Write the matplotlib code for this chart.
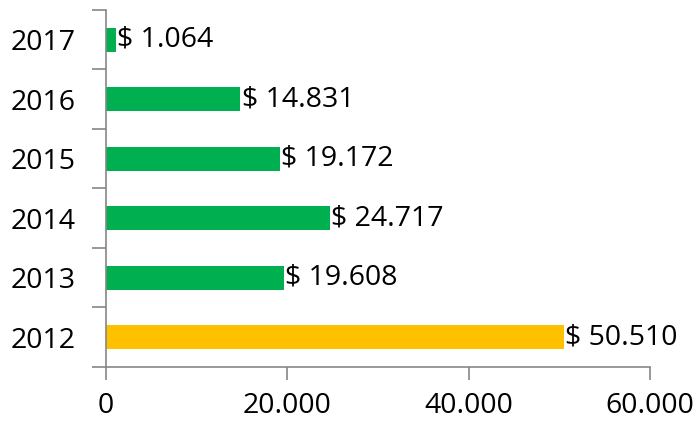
import matplotlib.pyplot as plt
from matplotlib.ticker import FuncFormatter
import numpy as np

years = ["2012", "2013", "2014", "2015", "2016", "2017"]
values = [50510, 19608, 24717, 19172, 14831, 1064]
colors = ["#FFC000", "#00B050", "#00B050", "#00B050", "#00B050", "#00B050"]
x_ticks = [0, 20000, 40000, 60000]

plt.rcParams["font.family"] = ["Open Sans", "DejaVu Sans"]
font_size = 20.5
spine_color = "#868686"


def dots(v):
    return f"{int(v):,}".replace(",", ".")


fig = plt.figure(figsize=(6.98, 4.25), dpi=100)
ax = fig.add_axes([0.1519, 0.1365, 0.7793, 0.84])

pos = np.arange(len(years))
ax.barh(pos, values, height=0.4, color=colors)

for p, v in zip(pos, values):
    ax.text(v + 150, p, "$ " + dots(v), ha="left", va="center", fontsize=font_size)

ax.set_xlim(0, 60000)
ax.set_ylim(-0.5, len(years) - 0.5)
ax.set_xticks(x_ticks)
ax.xaxis.set_major_formatter(FuncFormatter(lambda v, _: dots(v)))
ax.set_yticks(pos)
ax.set_yticklabels(years)
ax.set_yticks(np.arange(-0.5, len(years)), minor=True)

ax.tick_params(axis="x", labelsize=font_size, length=9, width=1.2, color=spine_color, pad=9)
ax.tick_params(axis="y", which="major", labelsize=font_size, length=0, pad=22)
ax.tick_params(axis="y", which="minor", length=10, width=1.2, color=spine_color)

for side in ["top", "right"]:
    ax.spines[side].set_visible(False)
for side in ["left", "bottom"]:
    ax.spines[side].set_color(spine_color)
    ax.spines[side].set_linewidth(1.2)

plt.savefig("out.png", dpi=100)
